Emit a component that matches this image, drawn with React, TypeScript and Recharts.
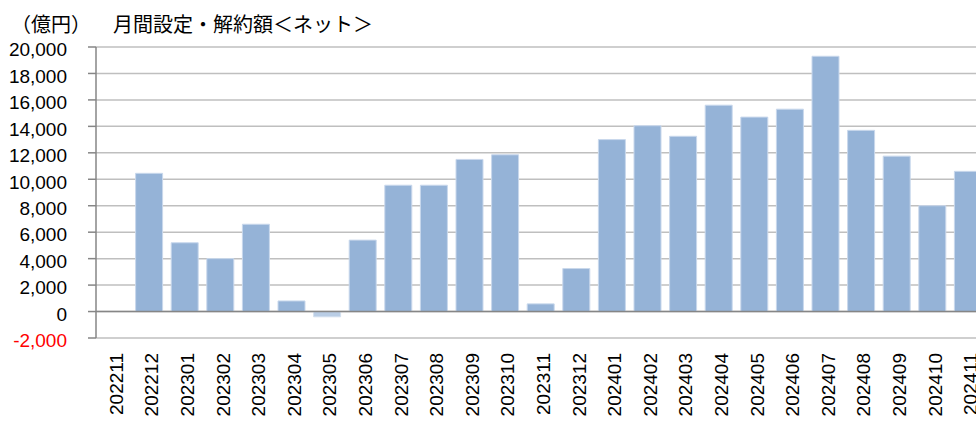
import React from "react";
import {
  BarChart,
  Bar,
  XAxis,
  YAxis,
  CartesianGrid,
  ReferenceLine,
  Cell,
} from "recharts";

const months = [
  "202211", "202212", "202301", "202302", "202303", "202304", "202305",
  "202306", "202307", "202308", "202309", "202310", "202311", "202312",
  "202401", "202402", "202403", "202404", "202405", "202406", "202407",
  "202408", "202409", "202410", "202411",
];

const netValues: (number | null)[] = [
  null, 10450, 5200, 4000, 6600, 800, -400,
  5400, 9550, 9550, 11500, 11850, 580, 3250,
  13000, 14050, 13250, 15600, 14700, 15300, 19300,
  13700, 11750, 8000, 10600,
];

const yTicks = [-2000, 0, 2000, 4000, 6000, 8000, 10000, 12000, 14000, 16000, 18000, 20000];

const titleText = "月間設定・解約額＜ネット＞";
const unitText = "（億円）";

const data = months.map((m, i) => ({ month: m, value: netValues[i] }));

const NUM_FONT = "'Liberation Sans', Arial, sans-serif";
const CJK_FONT = "'Noto Sans CJK JP', 'Noto Sans CJK SC', sans-serif";

const fmt = (v: number) => v.toLocaleString("en-US");

const YTick = (props: any) => {
  const { x, y, payload } = props;
  const v = payload.value as number;
  return (
    <text
      x={x}
      y={y + 2.5}
      dy="0.355em"
      textAnchor="end"
      fill={v < 0 ? "#FF0000" : "#000000"}
      fontSize={19}
      fontFamily={NUM_FONT}
    >
      {fmt(v)}
    </text>
  );
};

const XTick = (props: any) => {
  const { x, payload } = props;
  return (
    <g transform={`translate(${x + 2.5}, 353) rotate(-90)`}>
      <text
        x={0}
        y={0}
        textAnchor="end"
        dominantBaseline="central"
        fill="#000000"
        fontSize={19}
        fontFamily={NUM_FONT}
      >
        {payload.value}
      </text>
    </g>
  );
};

export default function App() {
  return (
    <div
      style={{
        position: "absolute",
        left: 0,
        top: 0,
        width: 976,
        height: 421,
        overflow: "hidden",
        background: "#ffffff",
      }}
    >
      <BarChart
        width={1000}
        height={421}
        data={data}
        margin={{ top: 47, right: 14, bottom: 0, left: 0 }}
        barSize={27}
      >
        <CartesianGrid vertical={false} stroke="#BFBFBF" strokeWidth={1.5} />
        <XAxis
          dataKey="month"
          interval={0}
          axisLine={false}
          tickLine={false}
          height={83}
          tick={<XTick />}
        />
        <YAxis
          type="number"
          domain={[-2000, 20000]}
          ticks={yTicks}
          interval={0}
          width={96}
          axisLine={{ stroke: "#868686", strokeWidth: 1.5 }}
          tickLine={{ stroke: "#868686", strokeWidth: 1.5 }}
          tickSize={8}
          tickMargin={21}
          tick={<YTick />}
        />
        <ReferenceLine y={0} stroke="#868686" strokeWidth={1.5} />
        <Bar dataKey="value" isAnimationActive={false} stroke="#C9D8EC" strokeWidth={1}>
          {data.map((d, i) => (
            <Cell
              key={d.month}
              fill={(d.value ?? 0) < 0 ? "#B9CDE5" : "#95B3D7"}
              stroke={(d.value ?? 0) < 0 ? "#D3E0EF" : "#C9D8EC"}
            />
          ))}
        </Bar>
      </BarChart>
      <svg
        width={976}
        height={421}
        style={{ position: "absolute", left: 0, top: 0, pointerEvents: "none" }}
      >
        <text x={11} y={32} fontSize={20} fontFamily={CJK_FONT} fill="#000000">
          {unitText}
        </text>
        <text x={113} y={32} fontSize={20} fontFamily={CJK_FONT} fill="#000000">
          {titleText}
        </text>
      </svg>
    </div>
  );
}
